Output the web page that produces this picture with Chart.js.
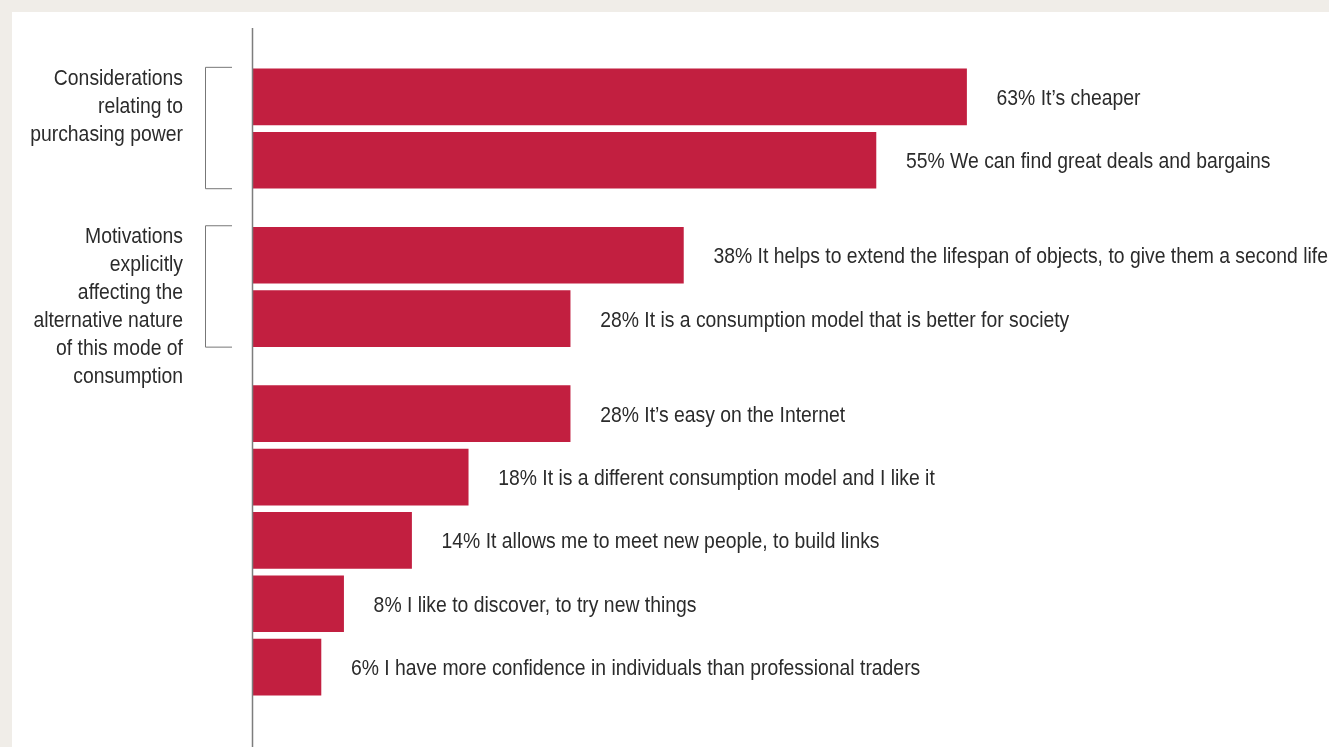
<!DOCTYPE html>
<html>
<head>
<meta charset="utf-8">
<script src="https://cdn.jsdelivr.net/npm/chart.js@4"></script>
<style>
  html, body { margin: 0; padding: 0; background: #f0ede8; overflow: hidden; }
  #panel { position: absolute; left: 12px; top: 12px; right: 0; bottom: 0; background: #ffffff; }
  #wrap { position: absolute; left: 0; top: 0; width: 1329px; height: 747px; }
</style>
</head>
<body>
<div id="panel"></div>
<div id="wrap"><canvas id="chart"></canvas></div>
<script>
const categories = [
    '63% It\u2019s cheaper',
    '55% We can find great deals and bargains',
    '38% It helps to extend the lifespan of objects, to give them a second life',
    '28% It is a consumption model that is better for society',
    '28% It\u2019s easy on the Internet',
    '18% It is a different consumption model and I like it',
    '14% It allows me to meet new people, to build links',
    '8% I like to discover, to try new things',
    '6% I have more confidence in individuals than professional traders'
];
const values = [63, 55, 38, 28, 28, 19, 14, 8, 6];

// how many bars belong to each group, and the bracket caption of each
const groupSizes = [2, 2, 5];
const groupNames = [
    ['Considerations', 'relating to', 'purchasing power'],
    ['Motivations', 'explicitly', 'affecting the', 'alternative nature', 'of this mode of', 'consumption'],
    null
];

const FONT = '22px "Liberation Sans", Arial, sans-serif';
const SQUEEZE = 0.88;   // the original uses a condensed face
const TEXT = '#2b2b2b';

// build category slots with empty spacers between bars and groups
const labels = [];
const data = [];
const groupRange = [];
let k = 0;
groupSizes.forEach((n, g) => {
    if (g > 0) { labels.push(''); data.push(null); }
    const first = labels.length;
    let last = first;
    for (let i = 0; i < n; i++) {
        last = labels.length;
        labels.push(categories[k]);
        data.push(values[k]);
        k++;
        labels.push('');
        data.push(null);
    }
    groupRange.push([first, last]);
});
labels.pop();
data.pop();

function narrowText(ctx, str, x, y, align) {
    ctx.save();
    ctx.translate(x, y);
    ctx.scale(SQUEEZE, 1);
    ctx.textAlign = align;
    ctx.fillText(str, 0, 0);
    ctx.restore();
}

const decorations = {
    id: 'decorations',
    afterDatasetsDraw(chart) {
        const ctx = chart.ctx;
        const area = chart.chartArea;
        const meta = chart.getDatasetMeta(0);
        ctx.save();

        // vertical axis line
        ctx.strokeStyle = '#7d7d7d';
        ctx.lineWidth = 1.5;
        ctx.beginPath();
        ctx.moveTo(area.left - 0.5, 28);
        ctx.lineTo(area.left - 0.5, chart.height);
        ctx.stroke();

        // bar labels
        ctx.font = FONT;
        ctx.fillStyle = TEXT;
        ctx.textBaseline = 'middle';
        meta.data.forEach((bar, i) => {
            if (data[i] == null) return;
            narrowText(ctx, labels[i], bar.x + 30, bar.y + 2, 'left');
        });

        // brackets and group captions
        groupRange.forEach(([a, b], g) => {
            const names = groupNames[g];
            if (!names) return;
            const top = meta.data[a].y - meta.data[a].height / 2 - 2;
            const bottom = meta.data[b].y + meta.data[b].height / 2;
            ctx.strokeStyle = '#777777';
            ctx.lineWidth = 1;
            ctx.beginPath();
            ctx.moveTo(232, top + 0.5);
            ctx.lineTo(205.5, top + 0.5);
            ctx.lineTo(205.5, bottom + 0.5);
            ctx.lineTo(232, bottom + 0.5);
            ctx.stroke();

            names.forEach((line, j) => {
                narrowText(ctx, line, 183, top + 12 + j * 27.9, 'right');
            });
        });
        ctx.restore();
    }
};

new Chart(document.getElementById('chart'), {
    type: 'bar',
    data: {
        labels: labels,
        datasets: [{
            data: data,
            backgroundColor: '#c21f40',
            borderWidth: 0,
            barThickness: 56,
            clip: false
        }]
    },
    options: {
        indexAxis: 'y',
        responsive: true,
        maintainAspectRatio: false,
        animation: false,
        layout: {
            padding: { left: 253, right: 0, top: 81, bottom: 64 }
        },
        scales: {
            x: { type: 'linear', min: 0, max: 95, display: false },
            y: { display: false }
        },
        plugins: {
            legend: { display: false },
            tooltip: { enabled: false }
        }
    },
    plugins: [decorations]
});
</script>
</body>
</html>
